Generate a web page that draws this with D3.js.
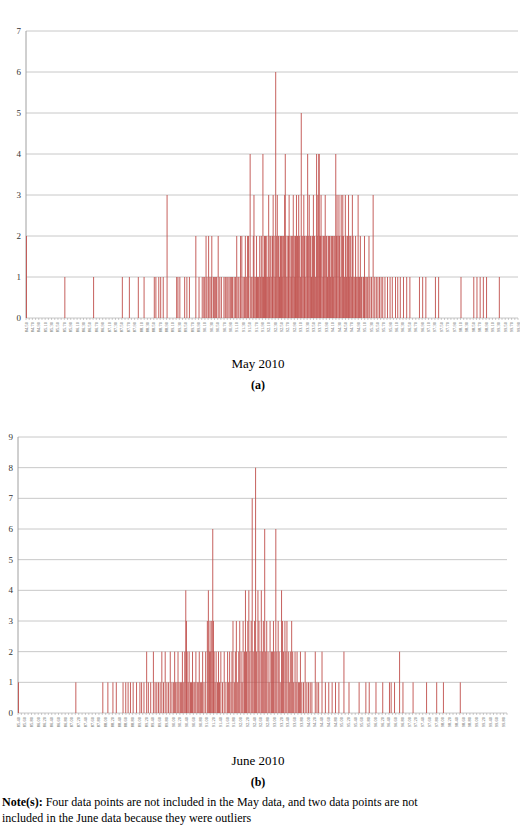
<!DOCTYPE html>
<html><head><meta charset="utf-8">
<script src="https://cdn.jsdelivr.net/npm/d3@7"></script>
<style>body{margin:0;background:#fff}text{font-family:"Liberation Serif","Times New Roman",serif}</style>
</head><body><svg id="c" width="520" height="827"></svg>
<script>
const mayData = "84.50:2 85.70:1 86.60:1 87.50:1 87.72:1 88.00:1 88.18:1 88.50:1 88.55:1 88.64:1 88.70:1 88.78:1 88.90:3 89.20:1 89.24:1 89.30:1 89.45:1 89.52:1 89.60:1 89.80:2 89.90:1 90.00:1 90.05:1 90.08:1 90.12:2 90.15:1 90.20:2 90.24:1 90.28:1 90.30:2 90.35:1 90.38:1 90.42:1 90.45:1 90.50:2 90.55:1 90.60:1 90.68:1 90.72:1 90.75:1 90.80:1 90.84:1 90.88:1 90.92:1 90.95:1 91.00:1 91.04:1 91.08:2 91.12:1 91.15:1 91.20:2 91.24:2 91.28:1 91.32:1 91.35:2 91.38:1 91.42:2 91.45:2 91.50:4 91.53:1 91.56:1 91.60:2 91.62:3 91.65:1 91.68:1 91.70:2 91.73:1 91.76:1 91.80:2 91.82:1 91.85:2 91.88:1 91.90:4 91.92:1 91.95:2 91.98:2 92.00:1 92.02:2 92.05:1 92.08:3 92.10:1 92.12:2 92.15:2 92.18:1 92.20:2 92.22:3 92.25:2 92.28:1 92.30:6 92.32:2 92.35:3 92.38:2 92.40:2 92.42:1 92.45:2 92.48:2 92.50:1 92.52:2 92.55:2 92.58:3 92.60:4 92.62:2 92.65:1 92.68:2 92.70:2 92.72:3 92.75:2 92.78:1 92.80:2 92.82:2 92.85:3 92.88:2 92.90:1 92.92:2 92.95:3 92.98:2 93.00:2 93.02:3 93.05:2 93.08:1 93.10:5 93.12:2 93.15:2 93.18:3 93.20:2 93.22:1 93.25:2 93.28:2 93.30:4 93.32:2 93.35:3 93.38:2 93.40:2 93.42:1 93.45:2 93.48:3 93.50:2 93.52:2 93.55:1 93.58:4 93.60:2 93.62:3 93.65:4 93.66:4 93.68:2 93.70:2 93.72:3 93.75:2 93.78:1 93.80:2 93.82:2 93.85:3 93.88:2 93.90:2 93.92:1 93.95:2 93.98:2 94.00:2 94.02:1 94.05:2 94.08:2 94.10:1 94.12:2 94.15:2 94.18:4 94.20:2 94.22:3 94.25:2 94.28:3 94.30:2 94.32:1 94.35:3 94.38:2 94.40:3 94.42:2 94.45:1 94.48:3 94.50:2 94.52:1 94.55:2 94.58:3 94.60:1 94.62:2 94.65:2 94.68:1 94.70:3 94.72:2 94.75:1 94.78:1 94.80:2 94.82:1 94.85:1 94.88:3 94.90:1 94.92:1 94.95:2 94.98:1 95.00:1 95.05:1 95.08:2 95.10:1 95.15:1 95.18:1 95.22:2 95.25:1 95.30:1 95.35:3 95.40:1 95.45:1 95.50:1 95.55:1 95.60:1 95.65:1 95.72:1 95.80:1 95.88:1 95.95:1 96.05:1 96.12:1 96.20:1 96.30:1 96.40:1 96.50:1 96.80:1 96.90:1 97.00:1 97.30:1 97.40:1 98.10:1 98.50:1 98.60:1 98.70:1 98.80:1 98.90:1 99.30:1";
const juneData = "85.40:1 87.10:1 87.90:1 88.05:1 88.20:1 88.30:1 88.50:1 88.58:1 88.65:1 88.72:1 88.80:1 88.90:1 89.00:1 89.05:1 89.12:1 89.20:2 89.25:1 89.32:1 89.40:2 89.45:1 89.50:1 89.55:1 89.60:1 89.65:2 89.70:1 89.75:2 89.80:1 89.85:1 89.90:2 89.95:1 90.00:1 90.03:2 90.06:1 90.10:1 90.13:2 90.16:1 90.20:1 90.23:1 90.26:2 90.30:1 90.33:2 90.36:4 90.38:3 90.40:2 90.43:1 90.46:2 90.50:1 90.53:1 90.56:2 90.60:1 90.63:1 90.66:2 90.70:1 90.73:1 90.76:2 90.80:1 90.83:1 90.86:2 90.90:1 90.95:2 91.00:3 91.03:4 91.06:2 91.08:3 91.10:2 91.13:3 91.16:6 91.18:3 91.20:2 91.23:1 91.26:2 91.30:1 91.33:2 91.36:1 91.40:2 91.45:1 91.50:2 91.55:1 91.60:2 91.63:1 91.66:2 91.70:1 91.73:2 91.76:3 91.80:1 91.83:2 91.86:3 91.90:1 91.93:2 91.96:3 92.00:2 92.03:1 92.06:3 92.10:2 92.13:4 92.16:2 92.20:3 92.23:4 92.26:2 92.30:3 92.33:7 92.36:2 92.40:3 92.43:8 92.46:2 92.50:4 92.53:3 92.56:2 92.60:4 92.63:2 92.66:3 92.70:6 92.73:2 92.76:3 92.80:2 92.83:1 92.86:3 92.90:2 92.93:2 92.96:3 93.00:2 93.03:6 93.06:2 93.10:3 93.13:2 93.16:1 93.20:4 93.23:3 93.26:2 93.30:3 93.33:2 93.36:3 93.40:2 93.43:1 93.46:2 93.50:3 93.53:2 93.56:1 93.60:2 93.63:1 93.66:2 93.70:1 93.73:1 93.76:2 93.80:1 93.85:1 93.90:2 93.95:1 94.00:1 94.05:1 94.10:1 94.20:2 94.25:1 94.30:1 94.40:2 94.50:1 94.60:1 94.70:1 94.80:1 94.90:1 95.05:2 95.20:1 95.50:1 95.70:1 95.80:1 96.00:1 96.20:1 96.40:1 96.45:1 96.55:1 96.70:2 96.80:1 97.10:1 97.50:1 97.80:1 98.00:1 98.50:1";
const mayTicks = d3.range(0, 78).map(i => (84.5 + i * 0.2).toFixed(2));
const juneTicks = d3.range(0, 73).map(i => (85.4 + i * 0.2).toFixed(2));
const mayYTicks = [0,1,2,3,4,5,6,7];
const juneYTicks = [0,1,2,3,4,5,6,7,8,9];

const parse = s => s.split(" ").map(t => { const [v,c] = t.split(":"); return {v:+v, c:+c}; });
const svg = d3.select("#c");

function panel(data, ticks, yTicks, dom, L, R, T, B, title, tag, ty) {
  const x = d3.scaleLinear().domain(dom).range([L, R]);
  const y = d3.scaleLinear().domain([0, yTicks[yTicks.length-1]]).range([B, T]);
  const g = svg.append("g");
  g.selectAll(".grid").data(yTicks).join("line")
    .attr("x1", L).attr("x2", R).attr("y1", d => y(d)).attr("y2", d => y(d))
    .attr("stroke", "#c8c8c8").attr("stroke-width", 1);
  g.append("line").attr("x1", L).attr("x2", L).attr("y1", T).attr("y2", B).attr("stroke", "#a0a0a0");
  g.selectAll(".yl").data(yTicks).join("text")
    .attr("x", L - 5).attr("y", d => y(d) + 3).attr("text-anchor", "end")
    .attr("font-size", 9).attr("fill", "#333").text(d => d);
  g.selectAll(".bar").data(data).join("rect")
    .attr("x", d => x(d.v)).attr("width", 1)
    .attr("y", d => y(d.c)).attr("height", d => B - y(d.c))
    .attr("fill", "#c0504d").attr("opacity", 0.9);
  const minor = d3.range(dom[0], dom[1] + 0.001, 0.1);
  g.selectAll(".tk").data(minor).join("line")
    .attr("x1", d => x(d)).attr("x2", d => x(d)).attr("y1", B).attr("y2", B + 2)
    .attr("stroke", "#999").attr("stroke-width", 0.5);
  g.selectAll(".xl").data(ticks).join("text")
    .attr("transform", d => `translate(${x(+d) + 1.5},${B + 4}) rotate(-90)`)
    .attr("text-anchor", "end").attr("font-size", 4.5).attr("fill", "#555").text(d => d);
  svg.append("text").attr("x", 258).attr("y", ty).attr("text-anchor", "middle").attr("font-size", 13).text(title);
  svg.append("text").attr("x", 258).attr("y", ty + 21).attr("text-anchor", "middle").attr("font-size", 12).attr("font-weight", "bold").text(tag);
}
panel(parse(mayData), mayTicks, mayYTicks, [84.5, 99.9], 26, 518, 31, 318, "May 2010", "(a)", 368);
panel(parse(juneData), juneTicks, juneYTicks, [85.4, 99.9], 18, 507, 437, 713, "June 2010", "(b)", 765);

const note = svg.append("text").attr("x", 2).attr("y", 806).attr("font-size", 12);
note.append("tspan").attr("font-weight", "bold").text("Note(s):");
note.append("tspan").text(" Four data points are not included in the May data, and two data points are not");
svg.append("text").attr("x", 2).attr("y", 822).attr("font-size", 12).text("included in the June data because they were outliers");
</script></body></html>
